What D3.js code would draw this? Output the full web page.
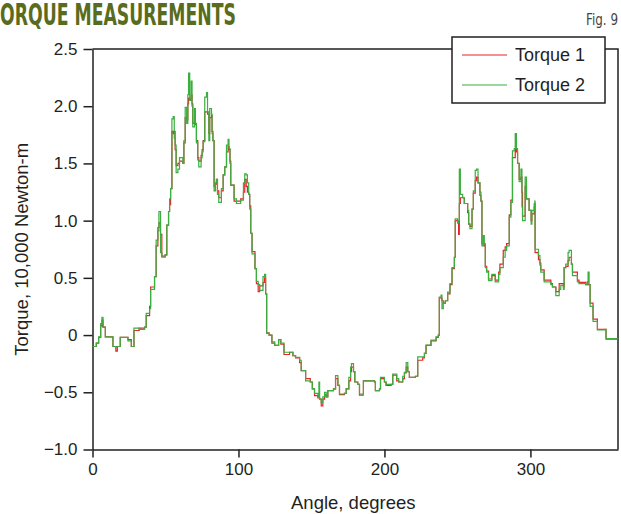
<!DOCTYPE html>
<html>
<head>
<meta charset="utf-8">
<script src="https://cdn.jsdelivr.net/npm/d3@7"></script>
<style>
  html, body { margin: 0; padding: 0; background: #fff; }
  svg { display: block; }
</style>
</head>
<body>
<svg id="chart" width="621" height="514"></svg>
<script>
// ---- data ----
const angles = [0,2.6,4.2,5.6,6.5,7.2,8.8,14.0,16.0,17.0,19.0,24.3,26.6,28.4,32.0,35.7,36.8,39.1,39.8,42.5,43.6,44.8,45.5,46.6,47.5,49.8,50.9,52.1,52.8,53.5,54.4,55.3,56.0,56.6,57.3,58.5,59.6,61.9,62.6,63.5,64.5,65.3,65.8,66.6,67.6,68.2,68.7,69.9,70.5,71.2,72.1,72.8,74.4,75.1,75.8,76.9,78.1,78.8,79.7,80.3,81.5,81.9,82.5,83.3,84.2,84.9,85.6,86.5,88.3,89.5,90.6,91.8,92.9,93.5,94.2,94.7,97.0,98.6,101.5,103.4,104.3,105.3,106.1,107.0,107.7,108.4,109.3,111.3,112.3,113.5,114.5,116.8,117.9,118.6,119.3,121.0,122.9,124.8,127.5,129.0,131.2,135.0,137.3,139.1,141.9,143.0,146.0,149.2,150.6,152.1,154.4,155.1,155.6,156.7,157.8,159.0,160.1,161.2,165.1,166.5,168.1,169.2,172.6,173.8,175.6,176.8,177.4,178.8,179.7,181.7,182.9,185.2,185.6,193.2,193.8,196.6,197.3,200.0,201.1,204.6,205.7,208.4,209.8,212.5,213.7,214.9,216.0,217.1,221.2,222.8,226.2,227.4,228.5,231.9,235.4,236.9,237.6,238.8,239.4,240.3,241.7,243.3,244.9,246.3,247.9,248.5,250.1,250.8,251.3,252.0,253.6,254.7,257.0,257.7,258.6,260.0,260.9,262.2,263.1,264.1,265.4,266.1,266.8,267.7,268.4,269.1,270.0,271.3,273.6,275.9,278.2,279.1,281.4,282.7,283.7,285.5,286.6,287.7,288.9,289.6,290.4,291.2,292.3,293.5,294.2,294.6,296.4,297.3,299.1,300.5,301.0,302.6,303.0,303.2,305.5,306.5,307.1,309.4,314.0,315.1,317.4,319.7,320.8,322.6,323.1,324.2,325.8,326.5,328.1,328.8,332.2,333.3,337.9,339.0,339.5,340.2,340.9,342.9,345.9,351.3,351.8,360];

const torque2 = [-0.10,-0.07,-0.015,0.10,0.155,0.07,-0.015,-0.10,-0.10,-0.10,-0.02,-0.05,-0.10,0.06,0.05,0.07,0.19,0.23,0.40,0.51,0.83,0.91,1.08,0.72,0.68,0.70,0.96,1.08,1.19,1.28,1.89,1.91,1.72,1.66,1.42,1.45,1.55,1.50,1.70,1.99,1.85,2.10,2.29,2.05,2.22,2.00,1.82,1.98,1.85,1.68,1.53,1.47,1.55,1.60,1.69,2.08,2.12,1.95,1.70,1.98,1.93,1.76,1.70,1.26,1.33,1.36,1.23,1.16,1.28,1.40,1.47,1.66,1.71,1.63,1.50,1.31,1.19,1.15,1.18,1.33,1.41,1.40,1.33,1.23,1.10,0.89,0.71,0.58,0.47,0.44,0.39,0.51,0.53,0.36,0.015,0.00,-0.06,-0.09,-0.04,-0.07,-0.15,-0.15,-0.18,-0.195,-0.22,-0.31,-0.40,-0.41,-0.47,-0.51,-0.545,-0.41,-0.56,-0.59,-0.54,-0.50,-0.54,-0.485,-0.47,-0.355,-0.44,-0.515,-0.51,-0.47,-0.37,-0.28,-0.25,-0.32,-0.41,-0.43,-0.515,-0.52,-0.40,-0.41,-0.485,-0.47,-0.37,-0.41,-0.43,-0.43,-0.34,-0.38,-0.41,-0.36,-0.325,-0.24,-0.32,-0.37,-0.36,-0.19,-0.19,-0.16,-0.087,-0.044,-0.015,0.00,0.33,0.35,0.23,0.28,0.30,0.375,0.45,0.59,0.68,1.015,0.98,1.00,1.45,1.23,1.20,1.15,1.09,0.97,0.93,1.10,1.26,1.44,1.45,1.33,1.25,1.17,0.78,0.87,0.80,0.59,0.55,0.475,0.53,0.465,0.53,0.59,0.68,0.74,0.78,1.03,1.16,1.61,1.63,1.76,1.63,1.50,1.34,1.45,1.12,1.00,1.38,1.19,1.09,0.97,1.09,1.15,1.17,0.75,0.695,0.61,0.55,0.465,0.44,0.42,0.345,0.40,0.435,0.40,0.59,0.62,0.72,0.74,0.62,0.52,0.465,0.45,0.44,0.465,0.55,0.44,0.25,0.12,0.045,0.05,-0.03,-0.03];

const torque1 = [-0.10,-0.07,-0.02,0.08,0.13,0.07,-0.015,-0.10,-0.14,-0.10,-0.02,-0.04,-0.10,0.04,0.06,0.07,0.17,0.25,0.42,0.51,0.78,0.94,0.98,0.88,0.69,0.70,0.96,1.08,1.14,1.28,1.78,1.76,1.78,1.62,1.48,1.50,1.52,1.50,1.68,1.90,1.88,2.02,2.07,2.06,2.10,2.02,1.85,1.90,1.84,1.70,1.55,1.52,1.57,1.62,1.70,1.95,1.95,1.93,1.76,1.90,1.92,1.78,1.70,1.30,1.32,1.36,1.26,1.20,1.26,1.40,1.47,1.60,1.65,1.62,1.52,1.31,1.17,1.17,1.19,1.25,1.36,1.30,1.25,1.23,1.13,0.89,0.73,0.58,0.45,0.38,0.43,0.46,0.50,0.36,0.02,0.00,-0.07,-0.09,-0.04,-0.08,-0.17,-0.15,-0.18,-0.20,-0.24,-0.31,-0.38,-0.41,-0.47,-0.53,-0.55,-0.55,-0.56,-0.62,-0.56,-0.52,-0.54,-0.485,-0.47,-0.38,-0.44,-0.52,-0.51,-0.47,-0.40,-0.32,-0.28,-0.32,-0.41,-0.43,-0.525,-0.52,-0.40,-0.41,-0.485,-0.47,-0.38,-0.41,-0.44,-0.43,-0.35,-0.40,-0.41,-0.38,-0.33,-0.28,-0.32,-0.37,-0.36,-0.22,-0.20,-0.16,-0.09,-0.05,-0.02,0.00,0.33,0.32,0.30,0.28,0.30,0.36,0.44,0.58,0.68,1.00,0.98,0.88,1.15,1.20,1.20,1.15,1.07,0.97,0.95,1.10,1.24,1.35,1.38,1.33,1.22,1.17,0.80,0.80,0.78,0.60,0.56,0.49,0.52,0.48,0.55,0.62,0.74,0.77,0.80,1.05,1.18,1.55,1.55,1.62,1.60,1.50,1.36,1.38,1.25,1.04,1.30,1.19,1.09,1.00,1.06,1.12,1.15,0.72,0.66,0.63,0.57,0.48,0.45,0.42,0.38,0.45,0.45,0.42,0.59,0.60,0.65,0.68,0.62,0.55,0.48,0.46,0.44,0.46,0.44,0.44,0.28,0.14,0.05,0.05,-0.035,-0.035];

const seriesNames = ["Torque 1", "Torque 2"];
const xTicks = [0, 100, 200, 300];
const yTicks = [2.5, 2.0, 1.5, 1.0, 0.5, 0, -0.5, -1.0];
const yTickLabels = ["2.5", "2.0", "1.5", "1.0", "0.5", "0", "\u22120.5", "\u22121.0"];

// ---- layout ----
const svg = d3.select("#chart");
const pLeft = 92.5, pRight = 618, pTop = 49, pBottom = 449.5;
const x = d3.scaleLinear().domain([0, 360]).range([pLeft, pRight]);
const y = d3.scaleLinear().domain([-1.0, 2.5]).range([pBottom, pTop]);
const axisColor = "#231f20";
const font = "'Liberation Sans', Arial, Helvetica, sans-serif";
const colors = ["#e8232b", "#3aae3f"];

// title
svg.append("text")
  .attr("x", 0).attr("y", 25)
  .attr("font-family", "'DejaVu Sans Condensed', 'DejaVu Sans', sans-serif")
  .attr("font-weight", "bold")
  .attr("font-size", 31)
  .attr("textLength", 236).attr("lengthAdjust", "spacingAndGlyphs")
  .attr("fill", "#596c1e")
  .text("ORQUE MEASUREMENTS");

svg.append("text")
  .attr("x", 618).attr("y", 25)
  .attr("text-anchor", "end")
  .attr("font-family", "'Liberation Sans Narrow', 'DejaVu Sans Condensed', sans-serif")
  .attr("font-size", 15)
  .attr("textLength", 32).attr("lengthAdjust", "spacingAndGlyphs")
  .attr("fill", "#444")
  .text("Fig. 9");

// frame (top and right)
svg.append("path")
  .attr("d", `M${pLeft},${pTop}H${pRight}V${pBottom}`)
  .attr("fill", "none").attr("stroke", axisColor).attr("stroke-width", 1.5);

// axes
const xAxis = d3.axisBottom(x).tickValues(xTicks).tickSize(8).tickSizeOuter(0).tickPadding(5).tickFormat(d3.format("d"));
const gx = svg.append("g").attr("transform", `translate(0,${pBottom})`).call(xAxis);
const yAxis = d3.axisLeft(y).tickValues(yTicks).tickSize(9).tickSizeOuter(0).tickPadding(6)
  .tickFormat((d, i) => yTickLabels[i]);
const gy = svg.append("g").attr("transform", `translate(${pLeft},0)`).call(yAxis);

[gx, gy].forEach(g => {
  g.select(".domain").attr("stroke", axisColor).attr("stroke-width", 1.5);
  g.selectAll(".tick line").attr("stroke", axisColor).attr("stroke-width", 1.5);
  g.selectAll(".tick text").attr("fill", "#231f20").attr("font-family", font).attr("font-size", 17);
});

// axis titles
svg.append("text")
  .attr("x", (pLeft + pRight) / 2 - 2).attr("y", 509)
  .attr("text-anchor", "middle")
  .attr("font-family", font).attr("font-size", 18.5).attr("fill", "#231f20")
  .text("Angle, degrees");

svg.append("text")
  .attr("transform", `translate(28,${(pTop + pBottom) / 2}) rotate(-90)`)
  .attr("text-anchor", "middle")
  .attr("font-family", font).attr("font-size", 18.5).attr("fill", "#231f20")
  .text("Torque, 10,000 Newton-m");

// lines
const n = Math.min(angles.length, torque1.length, torque2.length);
const line = d3.line().curve(d3.curveStepAfter)
  .x((d, i) => x(angles[i])).y(d => y(d));

[torque1, torque2].forEach((vals, k) => {
  svg.append("path")
    .datum(vals.slice(0, n))
    .attr("d", line)
    .attr("fill", "none")
    .attr("stroke", colors[k])
    .attr("stroke-width", 1.2);
});

// legend
const lg = svg.append("g");
lg.append("rect")
  .attr("x", 452).attr("y", 37).attr("width", 153).attr("height", 66)
  .attr("fill", "#fff").attr("stroke", axisColor).attr("stroke-width", 1.5);
seriesNames.forEach((name, i) => {
  const yy = 55 + i * 30;
  lg.append("line")
    .attr("x1", 462).attr("x2", 507).attr("y1", yy).attr("y2", yy)
    .attr("stroke", colors[i]).attr("stroke-width", 1.2);
  lg.append("text")
    .attr("x", 515).attr("y", yy + 6)
    .attr("font-family", font).attr("font-size", 18).attr("fill", "#231f20")
    .text(name);
});
</script>
</body>
</html>
